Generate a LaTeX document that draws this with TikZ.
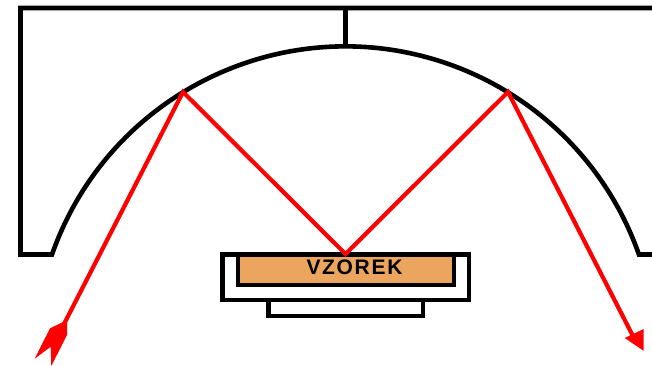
\documentclass[tikz,border=0pt]{standalone}
\usepackage{fontspec}
\setmainfont{Liberation Sans}
\tikzset{
  bk/.style={draw=black,line width=4.6pt,line join=miter,line cap=rect},
  ray/.style={draw=rayred,line width=4.2pt,line join=miter},
  tipfill/.style={fill=rayred,draw=none},
}
\definecolor{rayred}{RGB}{255,0,0}
\definecolor{sample}{RGB}{235,165,95}
\begin{document}
\begin{tikzpicture}[x=1pt,y=-1pt]
\useasboundingbox (0,0) rectangle (652,366);
\coordinate (hit) at (345.5,254);
\coordinate (ml) at (183,92);
\coordinate (mr) at (508,92);
\coordinate (tl) at (64,324);
\coordinate (tr) at (636,342);
% mirror
\draw[bk] (652,8) -- (20.5,8) -- (20.5,254.5) -- (52,254.5)
  arc[start angle=160.67,end angle=19.33,radius=311pt] -- (652,254.5);
\draw[bk,line cap=butt] (345.5,8) -- (345.5,46);
% holder
\draw[bk] (222.5,254.5) rectangle (469,300);
\draw[bk] (268.5,300) -- (268.5,316) -- (423,316) -- (423,300);
\draw[bk,fill=sample] (238,254.5) rectangle (454,285);
\node[inner sep=0pt,font=\fontsize{21}{21}\selectfont\bfseries\addfontfeature{LetterSpace=8}] (vz) at (354.5,267) {VZOREK};
% rays
\draw[ray] (tl) -- (ml) -- (hit) -- (mr) -- (tr);
\path[tipfill] (65,321) -- (67,323) -- (67,335) -- (51.3,366) -- (50.7,346.7) -- (34.7,358.7) -- (50,328.3) -- cycle;
\path[tipfill] (643.5,350.7) -- (624.7,338) -- (643.7,329) -- cycle;
\end{tikzpicture}
\end{document}
